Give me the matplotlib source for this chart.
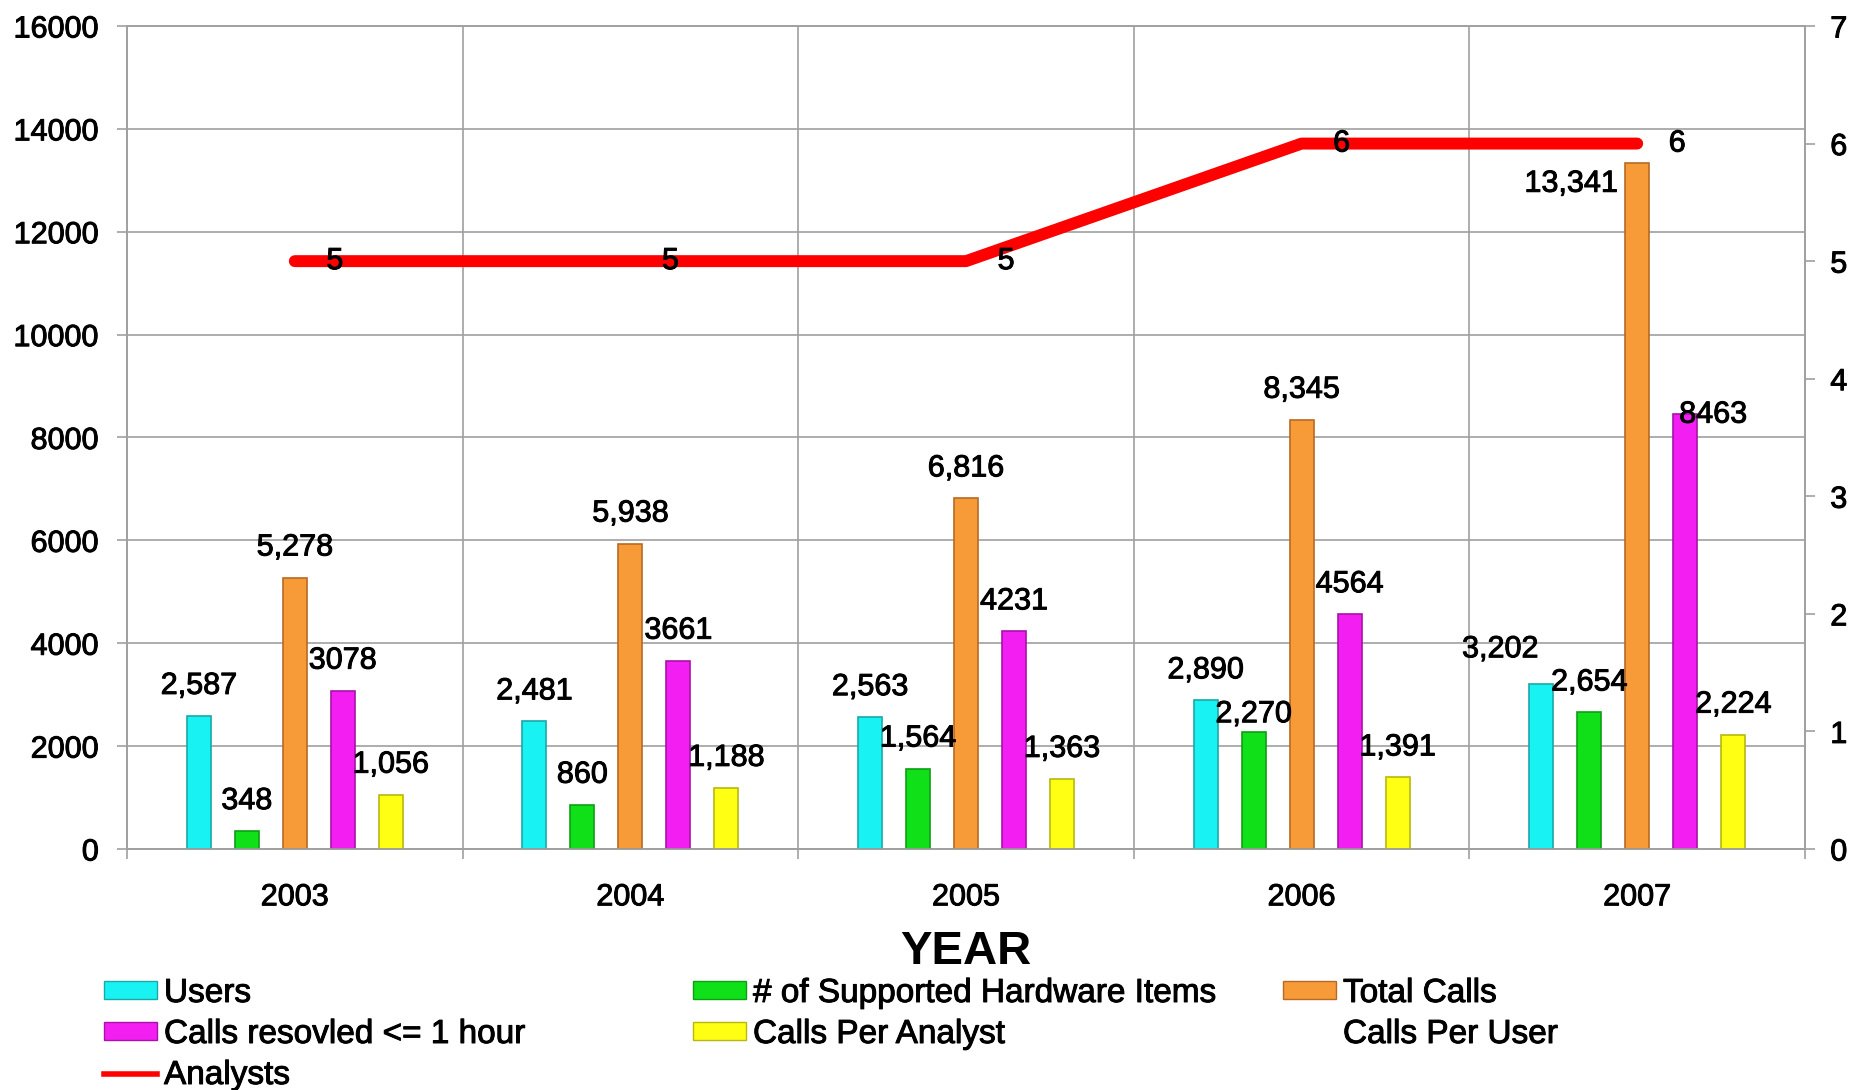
import numpy as np
import matplotlib.pyplot as plt
import matplotlib.patheffects as pe
from matplotlib.patches import Patch
from matplotlib.lines import Line2D

plt.rcParams['font.family'] = ['Liberation Sans', 'DejaVu Sans']

# data
years = ['2003', '2004', '2005', '2006', '2007']
users = [2587, 2481, 2563, 2890, 3202]
hardware = [348, 860, 1564, 2270, 2654]
total_calls = [5278, 5938, 6816, 8345, 13341]
resolved_1h = [3078, 3661, 4231, 4564, 8463]
calls_per_analyst = [1056, 1188, 1363, 1391, 2224]
analysts = [5, 5, 5, 6, 6]

series_names = ['Users', '# of Supported Hardware Items', 'Total Calls',
                'Calls resovled <= 1 hour', 'Calls Per Analyst']
series_vals = [users, hardware, total_calls, resolved_1h, calls_per_analyst]
series_fmt = ['{:,}', '{:,}', '{:,}', '{}', '{:,}']
face = ['#19F2F2', '#10E018', '#F79A38', '#F21EF2', '#FFFF14']
edge = ['#1AA8A8', '#0E9E14', '#B86A24', '#A812A8', '#B8B810']

# label nudges (pixels) where the original labels sit off the default spot
nudge = {(3, 1): (0, -12), (4, 0): (-41, 5), (4, 2): (-66, -51), (4, 3): (28, -31)}

# slightly heavier text, like the original rendering
heavy = [pe.withStroke(linewidth=0.7, foreground='black')]

fig = plt.figure(figsize=(18.54, 10.90), dpi=100)
ax = fig.add_axes([127/1854, 1-849/1090, (1805-127)/1854, (849-26)/1090])
ax2 = ax.twinx()

x = np.arange(len(years))
step = 0.143
width = 0.0714
for j, (vals, fc, ec) in enumerate(zip(series_vals, face, edge)):
    xs = x + (j - 2) * step
    ax.bar(xs, vals, width, color=fc, edgecolor=ec, linewidth=1.2, zorder=3)
    for i, v in enumerate(vals):
        dx, dy = nudge.get((i, j), (0, 0))
        ax.annotate(series_fmt[j].format(v), (xs[i], v), xytext=(dx, 30 + dy),
                    textcoords='offset pixels', ha='center', va='center',
                    fontsize=22, zorder=5, path_effects=heavy)

ax2.plot(x, analysts, color='#FF0000', linewidth=8.6, solid_capstyle='round',
         solid_joinstyle='round', zorder=4)
for i, v in enumerate(analysts):
    ax2.annotate(str(v), (x[i], v), xytext=(40, 0), textcoords='offset pixels',
                 ha='center', va='center', fontsize=22, zorder=6, path_effects=heavy)

gray = '#A0A0A0'
ax.set_xlim(-0.5, len(years) - 0.5)
ax.set_ylim(0, 16000)
ax.set_yticks(np.arange(0, 16001, 2000))
ax.set_xticks(x)
ax.set_xticklabels(years)
ax.set_xticks(np.arange(-0.5, len(years)), minor=True)
ax.grid(True, which='major', axis='y', color=gray, linewidth=1.2, zorder=0)
ax.grid(True, which='minor', axis='x', color=gray, linewidth=1.2, zorder=0)
ax.tick_params(axis='x', which='major', length=0, pad=24, labelsize=22)
ax.tick_params(axis='x', which='minor', length=7.2, width=1.2, color=gray)
ax.tick_params(axis='y', length=7.2, width=1.2, color=gray, pad=13, labelsize=22)
ax.set_axisbelow(True)

ax2.set_ylim(0, 7)
ax2.set_yticks(range(0, 8))
ax2.tick_params(axis='y', length=7.2, width=1.2, color=gray, pad=11, labelsize=22)
for a in (ax, ax2):
    for s in a.spines.values():
        s.set_color(gray)
        s.set_linewidth(1.2)
    for t in a.get_xticklabels() + a.get_yticklabels():
        t.set_path_effects(heavy)

ax.set_xlabel('YEAR', fontsize=34, fontweight='bold', labelpad=13)

# legend, three columns placed by hand
h = [Patch(facecolor=fc, edgecolor=ec) for fc, ec in zip(face, edge)]
line_h = Line2D([], [], color='#FF0000', linewidth=4)
blank = Patch(facecolor='none', edgecolor='none')
cols = [
    ([h[0], h[3], line_h], [series_names[0], series_names[3], 'Analysts'], 104),
    ([h[1], h[4]], [series_names[1], series_names[4]], 693),
    ([h[2], blank], [series_names[2], 'Calls Per User'], 1283),
]
for handles, labels, left in cols:
    leg = fig.legend(handles, labels, loc='upper left',
                     bbox_to_anchor=(left/1854, 1-978/1090),
                     frameon=False, fontsize=24, handlelength=1.6, handleheight=0.45,
                     handletextpad=0.2, labelspacing=0.3, borderpad=0, borderaxespad=0)
    for t in leg.get_texts():
        t.set_path_effects(heavy)

fig.savefig('out.png', dpi=100)
